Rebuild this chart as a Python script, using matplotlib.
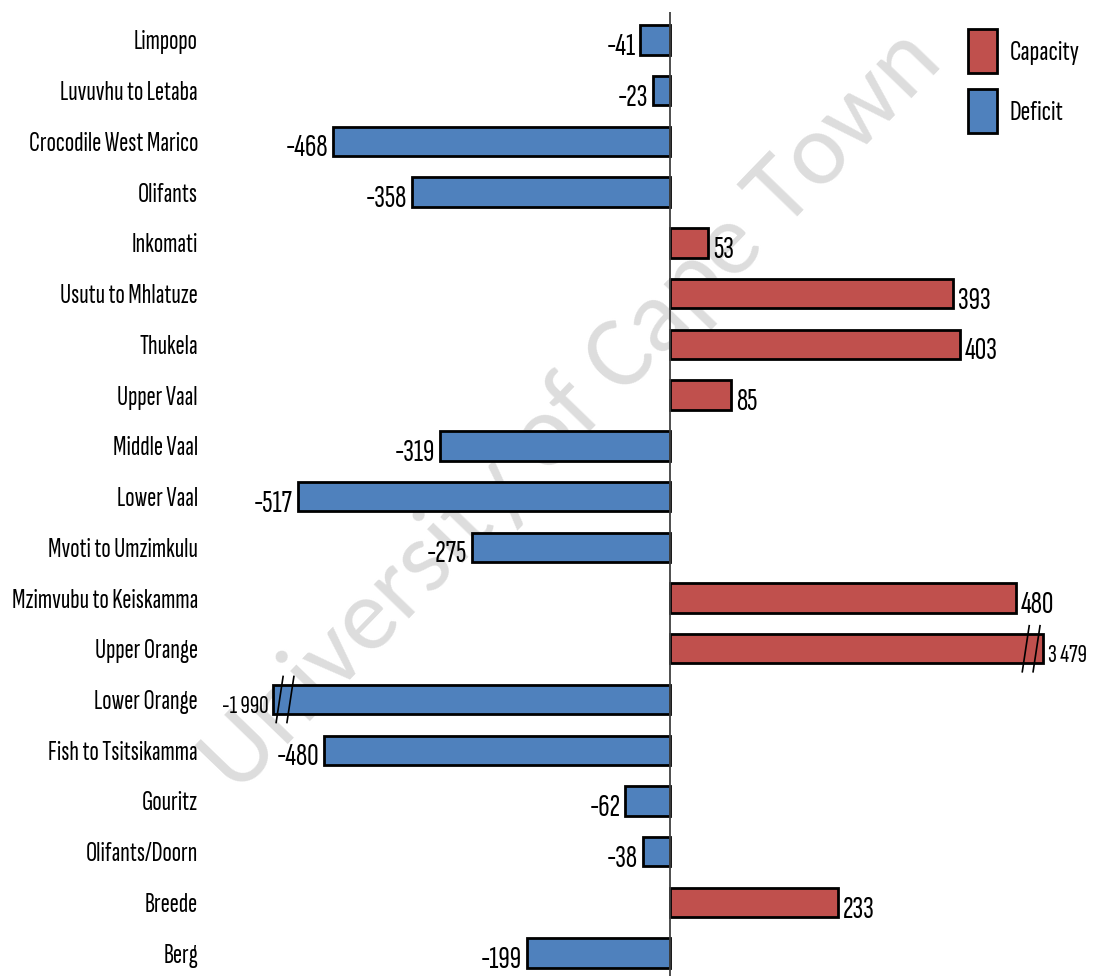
import numpy as np
import matplotlib.pyplot as plt
from matplotlib.patches import Patch

# water balance per management area (million m3/a)
regions = ['Limpopo', 'Luvuvhu to Letaba', 'Crocodile West Marico', 'Olifants',
           'Inkomati', 'Usutu to Mhlatuze', 'Thukela', 'Upper Vaal', 'Middle Vaal',
           'Lower Vaal', 'Mvoti to Umzimkulu', 'Mzimvubu to Keiskamma',
           'Upper Orange', 'Lower Orange', 'Fish to Tsitsikamma', 'Gouritz',
           'Olifants/Doorn', 'Breede', 'Berg']
balance = [-41, -23, -468, -358, 53, 393, 403, 85, -319, -517, -275, 480,
           3479, -1990, -480, -62, -38, 233, -199]

RED = '#C0504D'
BLUE = '#4F81BD'
FONT = ['Sofia Sans Extra Condensed', 'DejaVu Sans']
# bars longer than this are cut short and marked with a break
CUT_POS, CUT_NEG = 518, -551

plt.rcParams['font.family'] = FONT

fig = plt.figure(figsize=(10.95, 9.76), dpi=100)
ax = fig.add_axes([0.1909, 0.0, 0.809, 0.9877])
ax.patch.set_visible(False)

# size the narrow font so the longest name takes ~169 px
renderer = fig.canvas.get_renderer()
probe = fig.text(0, 0, 'Crocodile West Marico', fontsize=20)
base = 20 * 169 / probe.get_window_extent(renderer).width
probe.remove()

y = np.arange(len(regions))
vals = np.array(balance, dtype=float)
shown = np.clip(vals, CUT_NEG, CUT_POS)
colors = [RED if v > 0 else BLUE for v in vals]

# faint watermark behind the bars
ax.text(0.522, 0.578, 'University of Cape Town', fontsize=74, color='#dddddd',
        family=['Carlito', 'DejaVu Sans'], rotation=46, ha='center', va='center',
        transform=fig.transFigure, zorder=1, clip_on=False)

ax.barh(y, shown, height=0.58, color=colors, edgecolor='black', linewidth=2,
        zorder=3)

for yi, v, s in zip(y, vals, shown):
    broken = v != s
    txt = f'{abs(int(v)):,}'.replace(',', ' ')
    if v < 0:
        txt = '-' + txt
    fs = base * (0.95 if broken else 1.15)
    off = 3.5 if v > 0 else -3.5
    ax.annotate(txt, (s, yi + 0.14), xytext=(off, 0), textcoords='offset points',
                ha='left' if v > 0 else 'right', va='center', fontsize=fs,
                zorder=5)
    if broken:
        # double slash near the end of a cut bar
        sign = 1 if v > 0 else -1
        for d in (9, 24):
            xb = s - sign * d
            ax.plot([xb - 5, xb + 5], [yi + 0.47, yi - 0.47], color='black',
                    lw=1.2, zorder=4, solid_capstyle='butt')

ax.axvline(0, color='#404040', lw=1.3, zorder=4)

ax.set_xlim(-640, 590)
ax.set_ylim(len(regions) - 0.55, -0.55)
ax.set_xticks([])
ax.set_yticks(y)
ax.set_yticklabels(regions, fontsize=base)
ax.tick_params(axis='y', length=0, pad=8)
for sp in ax.spines.values():
    sp.set_visible(False)

handles = [Patch(facecolor=RED, edgecolor='black', linewidth=2, label='Capacity'),
           Patch(facecolor=BLUE, edgecolor='black', linewidth=2, label='Deficit')]
fig.legend(handles=handles, loc='upper left', bbox_to_anchor=(0.86, 0.997),
           frameon=False, fontsize=base * 1.05, handlelength=1.0, handleheight=1.95,
           labelspacing=0.55, handletextpad=0.45)

fig.savefig('out.png', dpi=100, facecolor='white')
